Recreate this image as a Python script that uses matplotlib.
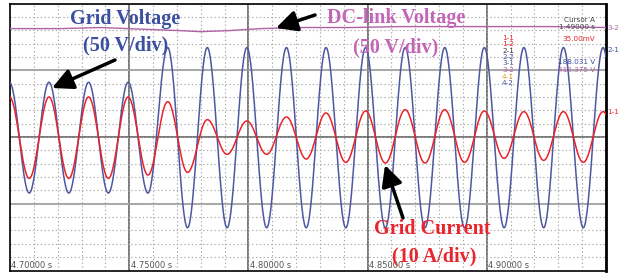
import numpy as np
import matplotlib
matplotlib.use("Agg")
from matplotlib import pyplot as plt

# ---------------- data ----------------
# time of first extremum (a peak) and the half period between extrema (s)
t_first = 4.69976
half_period = 0.0083

# grid voltage extrema, alternating peak / trough (V), 50 V/div
v_grid = [41, -42, 41, -42, 41, -42, 41, -42,
          67, -68, 67, -68, 67, -68, 67, -68,
          67, -68, 67, -68, 67, -68, 67, -68,
          67, -68, 67, -68, 67, -68, 67, -68]

# grid current extrema, alternating peak / trough (A), 10 A/div
i_grid = [6.0, -6.2, 6.0, -6.2, 6.0, -6.2, 6.0, -5.7,
          5.3, -5.3, 2.6, -2.6, 2.4, -2.6, 3.0, -3.3,
          3.6, -3.8, 3.9, -3.9, 4.1, -3.9, 4.1, -3.8,
          3.9, -3.2, 3.8, -3.5, 3.8, -3.8, 3.8, -3.8]

# dc-link voltage trace (V, screen offset included), 50 V/div
t_dc = [4.700, 4.721, 4.738, 4.759, 4.771, 4.780, 4.792, 4.805,
        4.822, 4.843, 4.864, 4.885, 4.906, 4.927, 4.950]
v_dc = [81.2, 81.2, 82.0, 80.5, 79.7, 78.9, 79.7, 81.2,
        82.0, 82.0, 82.7, 82.7, 82.7, 82.7, 82.0]

time_labels = ["4.70000 s", "4.75000 s", "4.80000 s", "4.85000 s", "4.90000 s"]
time_ticks = [4.70, 4.75, 4.80, 4.85, 4.90]


def waveform(ext, t):
    # join the extrema with half-cosine segments (scope sine shape)
    t_ext = t_first + half_period * np.arange(len(ext))
    k = np.clip(np.searchsorted(t_ext, t) - 1, 0, len(ext) - 2)
    s = (t - t_ext[k]) / half_period
    v0 = np.asarray(ext)[k]
    v1 = np.asarray(ext)[k + 1]
    return v0 + (v1 - v0) * (1 - np.cos(np.pi * s)) / 2


t = np.linspace(4.70, 4.95, 3000)
blue = waveform(v_grid, t) / 50.0
red = waveform(i_grid, t) / 10.0
dc = np.array(v_dc) / 50.0

W, H = 622, 274
fig = plt.figure(figsize=(W / 100, H / 100), dpi=100)
ax = fig.add_axes([10 / W, 3.5 / H, 596 / W, 267 / H])
ax.set_xlim(4.70, 4.95)
ax.set_ylim(-2, 2)

# scope graticule
ax.set_xticks(np.arange(4.70, 4.951, 0.01), minor=True)
ax.set_yticks(np.arange(-2, 2.01, 0.2), minor=True)
ax.set_xticks([])
ax.set_yticks([])
ax.tick_params(which="both", length=0)
ax.grid(which="minor", color="#a8a8a8", linestyle=(0, (1.2, 2.2)), lw=0.8)
for x in [4.75, 4.80, 4.85, 4.90]:
    ax.axvline(x, color="#555555", lw=1.1, zorder=1)
for y in [-1, 1]:
    ax.axhline(y, color="#9a9a9a", lw=1.2, zorder=1)
ax.axhline(0, color="#555555", lw=1.1, zorder=1)
for sp in ax.spines.values():
    sp.set_color("black")
    sp.set_linewidth(1.2)
ax.spines["right"].set_linewidth(2)

ax.plot(t, blue, color="#4e57a0", lw=1.1, zorder=3)
ax.plot(t, red, color="#e8232b", lw=1.1, zorder=4)
ax.plot(t_dc, dc, color="#b062a6", lw=1.0, zorder=5)

for x, lab in zip(time_ticks, time_labels):
    ax.text(x + 0.0006, -1.99, lab, fontsize=6, color="#555555",
            va="bottom", ha="left", zorder=6)


def px(x, y):
    return x / W, 1 - y / H


# readouts on the right
small = dict(fontsize=5.2, va="center")
fig.text(*px(595, 20), "Cursor A", color="#444444", ha="right", **small)
fig.text(*px(595, 27), "1.49000 s", color="#444444", ha="right", **small)
fig.text(*px(595, 39), "35.00mV", color="#e8232b", ha="right", **small)
fig.text(*px(595, 62), "188.031 V", color="#3b4fa0", ha="right", **small)
fig.text(*px(595, 70), "412.375 V", color="#b062a6", ha="right", **small)
chan = ["1-1", "1-2", "2-1", "2-2", "3-1", "3-2", "4-1", "4-2"]
chan_y = [38, 44.5, 51, 57, 63, 70, 77, 83]
chan_c = ["#e8232b", "#e8232b", "#333333", "#4e57a0", "#4e57a0", "#b062a6", "#e0a030", "#4e57a0"]
for lab, y, c in zip(chan, chan_y, chan_c):
    fig.text(*px(502, y), lab, color=c, ha="left", **small)
fig.text(*px(607, 28), "3-2", color="#b062a6", ha="left", **small)
fig.text(*px(607, 50), "2-1", color="#3b4fa0", ha="left", **small)
fig.text(*px(607, 112), "1-1", color="#e8232b", ha="left", **small)

# annotations
serif = dict(family="Liberation Serif", fontweight="bold", fontsize=14.5)
fig.text(*px(125, 19), "Grid Voltage", color="#3b4fa0", ha="center", va="center", **serif)
fig.text(*px(126, 45), "(50 V/div)", color="#3b4fa0", ha="center", va="center", **serif)
fig.text(*px(396, 18), "DC-link Voltage", color="#c466b8", ha="center", va="center", **serif)
fig.text(*px(396, 47), "(50 V/div)", color="#c466b8", ha="center", va="center", **serif)
fig.text(*px(432, 229), "Grid Current", color="#e8252d", ha="center", va="center", **serif)
fig.text(*px(434, 256), "(10 A/div)", color="#e8252d", ha="center", va="center", **serif)

arrow = dict(arrowstyle="-|>,head_length=0.9,head_width=0.45", color="black",
             lw=2.5, mutation_scale=14, shrinkA=0, shrinkB=0)
for tail, tip in [((115, 60), (52, 88)), ((315, 15), (276, 28)), ((403, 218), (385, 165))]:
    fig.add_artist(matplotlib.patches.FancyArrowPatch(
        px(*tail), px(*tip), transform=fig.transFigure, **arrow))

plt.savefig("out.png", dpi=100)
